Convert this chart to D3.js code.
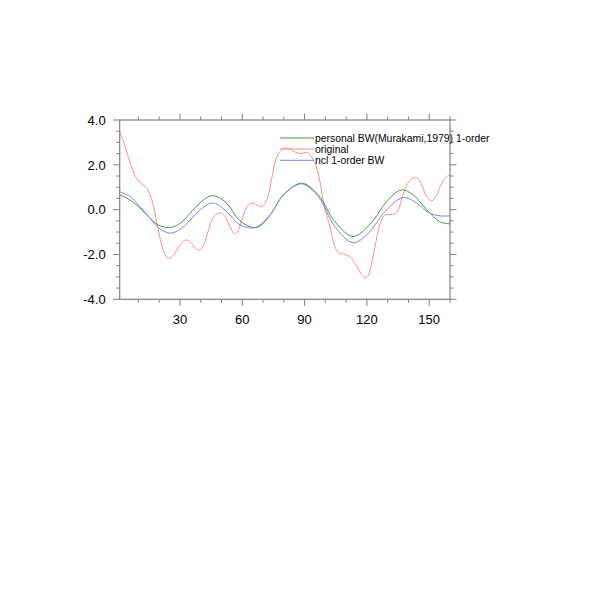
<!DOCTYPE html>
<html>
<head>
<meta charset="utf-8">
<script src="https://cdn.jsdelivr.net/npm/d3@7"></script>
<style>
html,body{margin:0;padding:0;background:#fff;}
svg{display:block;}
text{font-family:"Liberation Sans",Arial,Helvetica,sans-serif;}
</style>
</head>
<body>
<svg id="chart" width="600" height="600"></svg>
<script>
// ---- data ----
const origX = [1,3.4,5.8,8.2,10.6,13.8,16.2,17.8,19.4,21,23.4,25.1,27.5,29.9,33.1,35.5,38.7,41.1,43.5,45.9,48.3,50,51.7,54.1,56.2,58.1,60.5,62.9,65.3,67.7,69.3,71.8,74.2,76.6,79,81.4,83,85.4,88,91.2,93,95.5,97.4,99,100.6,102.2,104.6,106.2,108.6,111.9,114.3,116.7,119.1,120.7,122.3,123.9,125.5,127.1,128.7,131,133.5,135.1,136.7,139.2,141.6,144,146.4,148.8,151.2,153.6,156,158.4,160];
const origY = [3.48,2.89,2.14,1.55,1.22,0.98,0.51,-0.09,-0.83,-1.50,-2.10,-2.17,-1.95,-1.58,-1.35,-1.50,-1.80,-1.65,-0.98,-0.38,-0.16,-0.15,-0.31,-0.76,-1.08,-0.91,-0.24,0.21,0.29,0.18,0.13,0.43,1.40,2.35,2.67,2.76,2.70,2.57,2.50,2.55,2.40,1.95,1.25,0.36,-0.24,-0.76,-1.65,-1.92,-1.98,-2.10,-2.39,-2.77,-3.06,-2.92,-2.39,-1.65,-0.91,-0.46,-0.24,-0.21,-0.19,0.00,0.45,1.10,1.37,1.43,1.10,0.58,0.39,0.66,1.18,1.47,1.55];

const murX = [1,6,10.8,15.6,19.6,24.5,28.5,32.4,37.2,43.5,46.5,52.5,58.9,66.9,73.4,79.8,88.6,96.6,104.6,113.4,121.5,123.9,129.5,136.7,142.3,148.8,155.2,160];
const murY = [0.66,0.43,0.06,-0.38,-0.68,-0.80,-0.70,-0.42,0.08,0.57,0.62,0.29,-0.50,-0.80,-0.24,0.66,1.18,0.66,-0.54,-1.20,-0.65,-0.38,0.36,0.88,0.66,-0.01,-0.54,-0.64];

const nclX = [1,6,10.8,15.6,19.6,25,29.2,32.3,38.8,43.5,46.5,52.5,58.9,66.1,73.4,79.8,88.6,96.6,104.6,113.4,121.5,123.9,129.5,137.5,144,149.6,155.2,160];
const nclY = [0.80,0.58,0.13,-0.38,-0.80,-1.05,-0.93,-0.72,-0.09,0.24,0.29,-0.09,-0.68,-0.80,-0.24,0.66,1.15,0.58,-0.76,-1.48,-0.98,-0.68,-0.01,0.54,0.29,-0.12,-0.28,-0.27];

const xTicks = [30,60,90,120,150];
const xMinor = [10,20,40,50,70,80,100,110,130,140,160];
const yTicks = [-4,-2,0,2,4];
const yTickLabels = ["-4.0","-2.0","0.0","2.0","4.0"];
const yMinor = [-3.5,-3,-2.5,-1.5,-1,-0.5,0.5,1,1.5,2.5,3,3.5];

const seriesNames = ["personal BW(Murakami,1979) 1-order","original","ncl 1-order BW"];
const seriesColors = ["#3f9a3f","#ff8c8c","#7f7fff"];

// ---- layout ----
const L = 119.7, R = 450, T = 120, B = 299.3;
const svg = d3.select("#chart");
const x = d3.scaleLinear().domain([1,160]).range([L,R]);
const y = d3.scaleLinear().domain([-4,4]).range([B,T]);

const line = d3.line().x(d=>x(d[0])).y(d=>y(d[1])).curve(d3.curveCatmullRom.alpha(0.5));
const zip = (a,b)=>a.map((v,i)=>[v,b[i]]);

const data = [zip(murX,murY), zip(origX,origY), zip(nclX,nclY)];

// draw order: original, then green, then blue
[1,0,2].forEach(i=>{
  svg.append("path").datum(data[i])
    .attr("fill","none").attr("stroke",seriesColors[i]).attr("stroke-width",1)
    .attr("d",line);
});

// ---- axes ----
const axisColor = "#808080";
const g = svg.append("g");
g.append("rect").attr("x",L).attr("y",T).attr("width",R-L).attr("height",B-T)
  .attr("fill","none").attr("stroke",axisColor).attr("stroke-width",1.2);

function xt(vals, len){
  vals.forEach(v=>{
    g.append("line").attr("x1",x(v)).attr("x2",x(v)).attr("y1",B).attr("y2",B+len).attr("stroke",axisColor);
    g.append("line").attr("x1",x(v)).attr("x2",x(v)).attr("y1",T).attr("y2",T-len).attr("stroke",axisColor);
  });
}
function yt(vals, len){
  vals.forEach(v=>{
    g.append("line").attr("y1",y(v)).attr("y2",y(v)).attr("x1",L).attr("x2",L-len).attr("stroke",axisColor);
    g.append("line").attr("y1",y(v)).attr("y2",y(v)).attr("x1",R).attr("x2",R+len).attr("stroke",axisColor);
  });
}
xt(xTicks,6.5); xt(xMinor,3.5);
yt(yTicks,6.5); yt(yMinor,3.5);

xTicks.forEach(v=>{
  g.append("text").attr("x",x(v)).attr("y",B+25).attr("text-anchor","middle")
    .attr("font-size",13).attr("fill","#000").text(String(v));
});
yTicks.forEach((v,i)=>{
  g.append("text").attr("x",L-14).attr("y",y(v)).attr("dy","0.36em").attr("text-anchor","end")
    .attr("font-size",13).attr("fill","#000").text(yTickLabels[i]);
});

// ---- legend ----
const legY = [138,149,160.3];
seriesNames.forEach((n,i)=>{
  svg.append("line").attr("x1",280).attr("x2",314).attr("y1",legY[i]).attr("y2",legY[i])
    .attr("stroke",seriesColors[i]).attr("stroke-width",1);
  svg.append("text").attr("x",315).attr("y",legY[i]).attr("dy","0.36em")
    .attr("font-size",10.4).attr("fill","#000").text(n);
});
</script>
</body>
</html>
